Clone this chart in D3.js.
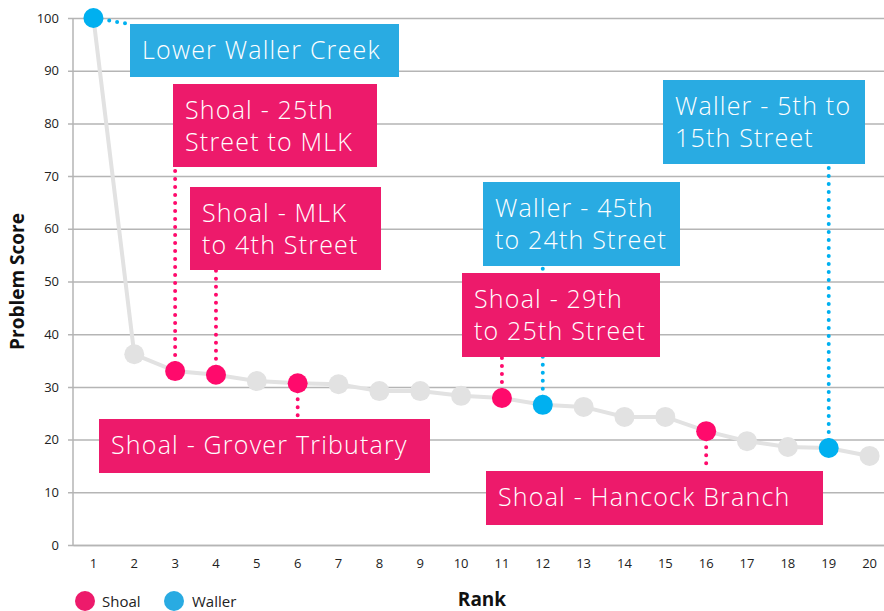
<!DOCTYPE html>
<meta charset="utf-8">
<style>
body { margin: 0; background: #fff; }
.tick text { font: 13px "Open Sans", sans-serif; fill: #222; }
.lbl text { font-family: "Open Sans", sans-serif; font-weight: 300; font-size: 25px; letter-spacing: 1.2px; fill: #fff; }
.title { font: bold 19px "Open Sans", sans-serif; fill: #111; }
.legend text { font: 15px "Open Sans", sans-serif; fill: #222; }
</style>
<body>
<script src="https://d3js.org/d3.v7.min.js"></script>
<script>

var ranks = d3.range(1, 21);
var scores = [100, 36.2, 33.0, 32.3, 31.1, 30.7, 30.5, 29.2, 29.2, 28.3,
              27.9, 26.6, 26.2, 24.3, 24.3, 21.6, 19.7, 18.6, 18.4, 16.9];
var creek = ["Waller", "", "Shoal", "Shoal", "", "Shoal", "", "", "", "",
             "Shoal", "Waller", "", "", "", "Shoal", "", "", "Waller", ""];
var yTicks = d3.range(0, 101, 10);

// annotation text per labelled rank
var labelRank = [1, 3, 4, 6, 11, 12, 16, 19];
var labelText = [
  ["Lower Waller Creek"],
  ["Shoal - 25th", "Street to MLK"],
  ["Shoal - MLK", "to 4th Street"],
  ["Shoal - Grover Tributary"],
  ["Shoal - 29th", "to 25th Street"],
  ["Waller - 45th", "to 24th Street"],
  ["Shoal - Hancock Branch"],
  ["Waller - 5th to", "15th Street"]
];
// box layout in pixels: x0, y0, x1, y1
var labelBox = [
  [130, 24, 399, 77],
  [173, 84, 377, 167],
  [190, 187, 381, 270],
  [99, 419, 430, 473],
  [462, 273, 660, 357],
  [483, 182, 680, 266],
  [486, 471, 823, 525],
  [663, 80, 865, 164]
];

var colors = { Shoal: "#ff0a6c", Waller: "#00b0f0", "": "#e2e2e2" };
var boxColors = { Shoal: "#ed1a6b", Waller: "#29abe2" };

var width = 884, height = 611;
var margin = { left: 73, right: -6, top: 18, bottom: 66 };

var svg = d3.select("body").append("svg")
    .attr("width", width)
    .attr("height", height);

var x = d3.scaleBand()
    .domain(ranks)
    .range([margin.left, width - margin.right]);

var y = d3.scaleLinear()
    .domain([0, 100])
    .range([height - margin.bottom, margin.top]);

// gridlines + y axis
var yAxis = svg.append("g")
    .attr("transform", "translate(" + margin.left + ",0)")
    .call(d3.axisLeft(y).tickValues(yTicks).tickSize(-(width - margin.right - margin.left)).tickPadding(14));
yAxis.select(".domain").remove();
yAxis.selectAll(".tick line").attr("stroke", "#b5b5b5").attr("stroke-width", 1.5).attr("x1", -5);

svg.append("line")
    .attr("x1", margin.left).attr("x2", margin.left)
    .attr("y1", y(100)).attr("y2", y(0))
    .attr("stroke", "#b5b5b5").attr("stroke-width", 1.5);

var xAxis = svg.append("g")
    .attr("transform", "translate(0," + y(0) + ")")
    .call(d3.axisBottom(x).tickSize(0).tickPadding(14));
xAxis.select(".domain").attr("stroke", "#b5b5b5").attr("stroke-width", 1.5);

var pts = ranks.map(function(r, i) {
  return { rank: r, score: scores[i], creek: creek[i] };
});
function px(d) { return x(d.rank) + x.bandwidth() / 2; }

// line
svg.append("path")
    .datum(pts)
    .attr("fill", "none")
    .attr("stroke", "#e2e2e2")
    .attr("stroke-width", 4)
    .attr("d", d3.line().x(px).y(function(d) { return y(d.score); }));

// connectors
labelRank.forEach(function(r, i) {
  var d = pts[r - 1], b = labelBox[i];
  var cx = px(d), cy = y(d.score);
  var x2, y2;
  if (r === 1) { x2 = b[0]; y2 = b[1]; }
  else { x2 = cx; y2 = cy < b[1] ? b[1] : b[3]; }
  svg.append("line")
      .attr("x1", cx).attr("y1", cy).attr("x2", x2).attr("y2", y2)
      .attr("stroke", colors[d.creek])
      .attr("stroke-width", 4)
      .attr("stroke-linecap", "round")
      .attr("stroke-dasharray", "0,8");
});

// points
svg.append("g").selectAll("circle")
    .data(pts)
    .enter().append("circle")
    .attr("cx", px)
    .attr("cy", function(d) { return y(d.score); })
    .attr("r", 10)
    .attr("fill", function(d) { return colors[d.creek]; });

// label boxes
var lbl = svg.append("g").attr("class", "lbl").selectAll("g")
    .data(labelRank)
    .enter().append("g");
lbl.append("rect")
    .attr("x", function(r, i) { return labelBox[i][0]; })
    .attr("y", function(r, i) { return labelBox[i][1]; })
    .attr("width", function(r, i) { return labelBox[i][2] - labelBox[i][0]; })
    .attr("height", function(r, i) { return labelBox[i][3] - labelBox[i][1]; })
    .attr("fill", function(r) { return boxColors[creek[r - 1]]; });
lbl.each(function(r, i) {
  var b = labelBox[i];
  var t = d3.select(this).append("text");
  labelText[i].forEach(function(s, j) {
    t.append("tspan")
        .attr("x", b[0] + 12)
        .attr("y", b[1] + 35 + j * 32)
        .text(s);
  });
});

// titles
svg.append("text")
    .attr("class", "title")
    .attr("transform", "translate(24," + y(50) + ") rotate(-90)")
    .attr("text-anchor", "middle")
    .text("Problem Score");
svg.append("text")
    .attr("class", "title")
    .attr("x", 482).attr("y", 606)
    .attr("text-anchor", "middle")
    .text("Rank");

// legend
var legend = svg.append("g").attr("class", "legend");
[["Shoal", 85, 102], ["Waller", 174, 192]].forEach(function(l) {
  legend.append("circle").attr("cx", l[1]).attr("cy", 601).attr("r", 10).attr("fill", boxColors[l[0]]);
  legend.append("text").attr("x", l[2]).attr("y", 607).text(l[0]);
});

</script>
</body>
